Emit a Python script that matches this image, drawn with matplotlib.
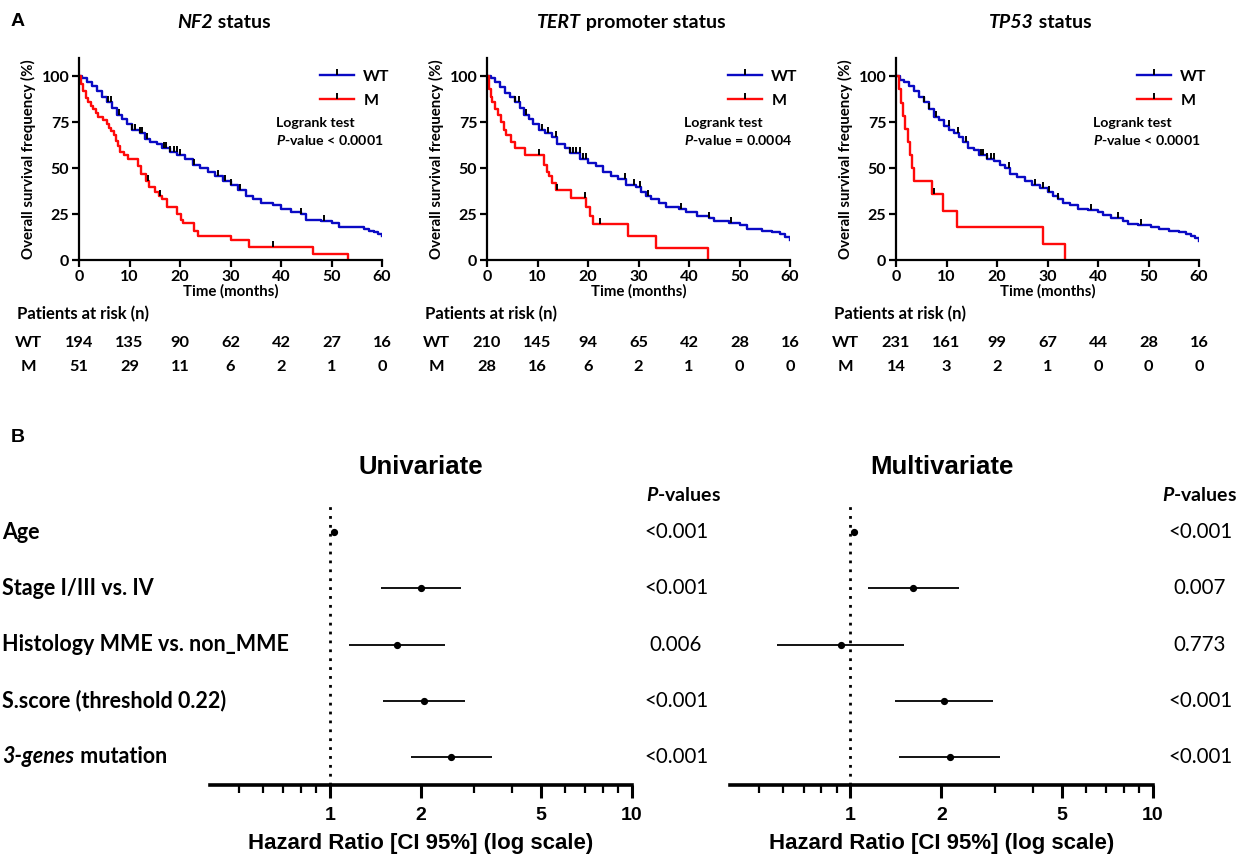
'''
plot.py

Kaplan-Meier curves by NF2 / TERT promoter / TP53 status (A) and
Cox regression forest plots, univariate and multivariate (B).
'''

import matplotlib
matplotlib.use('Agg')
import matplotlib.pyplot as plt
import matplotlib.transforms as mtransforms
from matplotlib.lines import Line2D
from matplotlib.offsetbox import TextArea, HPacker, AnnotationBbox
from matplotlib.ticker import NullFormatter
import numpy as np

plt.rcParams['font.family'] = ['Lato', 'DejaVu Sans']
plt.rcParams['mathtext.fontset'] = 'custom'
plt.rcParams['mathtext.it'] = 'Lato:italic:bold'
plt.rcParams['mathtext.rm'] = 'Lato:bold'
plt.rcParams['mathtext.bf'] = 'Lato:bold'

BLUE = '#0a0ac4'
RED = '#ff0a0a'

# ---- A: survival curves (time in months, survival in %) ----
nf2_wt_t = [0, 0.5, 1.5, 2.5, 3.5, 4.5, 5.5, 6.5, 7.5, 8.5, 9.5, 10.5, 12, 13, 14,
            15.5, 16.5, 18, 19.5, 21, 22.5, 24, 25.5, 27, 28.5, 30, 31.5, 33, 34.5,
            36, 38.5, 40, 42, 44, 45, 48, 50, 51.5, 56.5, 57.5, 58.5, 59.3, 60]
nf2_wt_s = [100, 99, 97, 95, 92, 89, 86, 83, 79, 77, 74, 71, 69, 66, 64,
            63, 61, 59, 57, 55, 52, 50, 48, 46, 43, 41, 38, 35, 33,
            31, 30, 28, 26, 25, 22, 21, 20, 18, 17, 16, 15, 14, 13]
nf2_m_t = [0, 0.3, 0.8, 1.3, 1.8, 2.3, 2.8, 3.3, 3.8, 4.8, 5.5, 6.0, 6.4, 7.0, 7.4,
           7.8, 8.2, 9.0, 9.8, 11.6, 12.3, 13.3, 13.8, 15.0, 15.8, 16.5, 17.5, 19.5,
           20.2, 20.6, 22.7, 23.6, 30.0, 33.6, 46.4, 53.2]
nf2_m_s = [100, 96, 92, 88, 86, 84, 82, 80, 78, 76, 74, 72, 70, 68, 65,
           62, 59, 57, 55, 51, 47, 43, 40, 37, 35, 33, 29, 25,
           22, 20, 16, 13, 11, 7, 3, 0]
nf2_wt_cens = [5.8, 6.3, 8.0, 10.5, 11.0, 12.0, 12.4, 13.5, 16.8, 17.3, 18.0, 18.8,
               19.4, 20.0, 22.7, 27.5, 29.0, 30.1, 31.8, 44.0, 48.5]
nf2_m_cens = [13.7, 16.0, 38.4]

tert_wt_t = [0, 0.8, 1.5, 2.5, 3.5, 4.5, 5.5, 6.5, 7.3, 8.3, 9.2, 10.2, 11.5, 12.8,
             13.8, 15.5, 16.5, 18.5, 20, 21.5, 23, 24.5, 26, 27.5, 29.5, 30.5, 31.5,
             32.5, 34, 35.5, 38, 39.5, 41.5, 44, 45, 48, 50, 51.5, 54.5, 56.5, 58,
             59, 60]
tert_wt_s = [100, 99, 97, 94, 91, 89, 86, 83, 79, 77, 74, 71, 69, 67,
             63, 61, 58, 55, 53, 51, 48, 46, 44, 41, 40, 37, 35,
             33, 31, 29, 28, 26, 24, 23, 21, 20, 19, 17, 16, 15, 14,
             12.5, 11]
tert_m_t = [0, 0.3, 0.7, 1.0, 1.5, 2.2, 2.8, 3.3, 3.8, 4.8, 5.5, 7.5, 11.3, 11.9,
            12.3, 12.8, 13.6, 16.7, 19.7, 20.4, 21.0, 28.0, 33.4, 43.8]
tert_m_s = [100, 93, 89, 86, 82, 79, 75, 71, 68, 64, 61, 57, 52, 48,
            46, 42, 38, 34, 29, 24, 19.5, 13, 6.5, 0]
tert_wt_cens = [5.5, 6.3, 7.8, 10.8, 12.1, 13.6, 16.5, 17.1, 17.6, 18.4, 19.0, 19.7,
                27.4, 29.1, 30.3, 31.9, 38.5, 44.0, 48.4]
tert_m_cens = [10.3, 13.8, 19.5, 22.4]

tp53_wt_t = [0, 0.8, 1.5, 2.5, 3.5, 4.5, 5.5, 6.5, 7.5, 8.5, 9.5, 10.5, 11.5, 12.5,
             13.2, 14.2, 15.5, 16.5, 18, 19.5, 20.5, 21.5, 22.5, 24, 25.5, 27, 28.5,
             30, 31, 32, 33, 34.5, 36, 38, 40, 41, 42.5, 45, 46, 48, 50.5, 52, 54,
             56, 57.5, 58.5, 59.3, 60]
tp53_wt_s = [100, 98, 97, 95, 92, 89, 86, 82, 78, 76, 73, 71, 69, 67,
             64, 61, 60, 57, 55, 54, 52, 50, 47, 45, 43, 41, 39,
             37, 35, 33, 31, 30, 28, 27, 26, 24.5, 23, 21, 19.5, 19, 18, 17, 16,
             15, 14, 13, 12, 10.5]
tp53_m_t = [0, 0.6, 1.0, 1.4, 1.8, 2.3, 2.7, 3.1, 3.6, 7.2, 9.4, 12.1, 29.1, 33.5]
tp53_m_s = [100, 92.9, 85.7, 78.6, 71.4, 64.3, 57.1, 50, 42.9, 35.7, 26.8, 17.9, 8.9, 0]
tp53_wt_cens = [5.6, 6.5, 7.9, 10.4, 12.2, 13.8, 16.8, 17.3, 18.1, 18.8, 19.4, 22.4,
                27.5, 29.1, 30.3, 32.0, 38.6, 44.0, 48.6]
tp53_m_cens = [7.6]

risk_times = [0, 10, 20, 30, 40, 50, 60]
nf2_risk_wt = [194, 135, 90, 62, 42, 27, 16]
nf2_risk_m = [51, 29, 11, 6, 2, 1, 0]
tert_risk_wt = [210, 145, 94, 65, 42, 28, 16]
tert_risk_m = [28, 16, 6, 2, 1, 0, 0]
tp53_risk_wt = [231, 161, 99, 67, 44, 28, 16]
tp53_risk_m = [14, 3, 2, 1, 0, 0, 0]

# (italic part, upright part)
km_titles = [('NF2', ' status'), ('TERT', ' promoter status'), ('TP53', ' status')]
logrank_p = ['< 0.0001', '= 0.0004', '< 0.0001']

# ---- B: Cox models ----
covariates = [('', 'Age'), ('', 'Stage I/III vs. IV'), ('', 'Histology MME vs. non_MME'),
              ('', 'S.score (threshold 0.22)'), ('3-genes', ' mutation')]
uni_hr = [1.03, 2.00, 1.67, 2.05, 2.51]
uni_lo = [1.015, 1.47, 1.155, 1.50, 1.85]
uni_hi = [1.045, 2.72, 2.40, 2.79, 3.43]
uni_p = ['<0.001', '<0.001', '0.006', '<0.001', '<0.001']
multi_hr = [1.03, 1.61, 0.93, 2.04, 2.13]
multi_lo = [1.015, 1.14, 0.57, 1.40, 1.45]
multi_hi = [1.045, 2.29, 1.50, 2.96, 3.11]
multi_p = ['<0.001', '0.007', '0.773', '<0.001', '<0.001']

hr_major = [1, 2, 5, 10]
hr_minor = [0.5, 0.6, 0.7, 0.8, 0.9, 3, 4, 6, 7, 8, 9]

W, H = 1242, 860
CENS = [(0, 0), (0, 1)]  # censor tick sitting on top of the curve


def surv_at(ts, ss, tc):
    idx = np.searchsorted(ts, tc, side='right') - 1
    return np.asarray(ss)[idx]


def rich_text(ax, xy, italic, upright, size, coords, align):
    boxes = []
    if italic:
        boxes.append(TextArea(italic, textprops=dict(fontsize=size, fontweight='bold',
                                                     fontstyle='italic')))
    boxes.append(TextArea(upright, textprops=dict(fontsize=size, fontweight='bold')))
    pack = HPacker(children=boxes, pad=0, sep=0, align='baseline')
    ab = AnnotationBbox(pack, xy, xycoords=coords, frameon=False,
                        box_alignment=align, pad=0, annotation_clip=False)
    ax.add_artist(ab)


def km_panel(ax, title, wt, m, cens, pval, risk_wt, risk_m):
    for (t, s), c, col in zip((wt, m), cens, (BLUE, RED)):
        ax.step(t, s, where='post', color=col, lw=1.7, zorder=2)
        ax.plot(c, surv_at(t, s, c), ls='none', marker=CENS, ms=8,
                mec='black', mew=1.4, zorder=3)
    ax.set_xlim(0, 60)
    ax.set_ylim(0, 110)
    ax.set_xticks(risk_times)
    ax.set_yticks([0, 25, 50, 75, 100])
    for sp in ('top', 'right'):
        ax.spines[sp].set_visible(False)
    for sp in ('left', 'bottom'):
        ax.spines[sp].set_linewidth(1.6)
    ax.tick_params(direction='out', length=5, width=1.6, labelsize=11.5, pad=2)
    for lab in ax.get_xticklabels() + ax.get_yticklabels():
        lab.set_fontweight('bold')
    ax.set_xlabel('Time (months)', fontweight='bold', fontsize=10.8, labelpad=0)
    ax.set_ylabel('Overall survival frequency (%)', fontweight='bold',
                  fontsize=10.8, labelpad=4)
    rich_text(ax, (0.477, 1.175), title[0], title[1], 14, ax.transAxes, (0.5, 0.5))
    ax.text(0.65, 0.68, 'Logrank test', transform=ax.transAxes, fontsize=10.2,
            fontweight='bold', va='center')
    ax.text(0.65, 0.595, r'$\mathit{P}$-value ' + pval, transform=ax.transAxes,
            fontsize=10.2, fontweight='bold', va='center')
    handles = [Line2D([], [], color=col, lw=1.7, marker=CENS, ms=8, mec='black',
                      mew=1.4) for col in (BLUE, RED)]
    ax.legend(handles, ['WT', 'M'], loc='upper left', bbox_to_anchor=(0.775, 0.975),
              frameon=False, handlelength=2.1, handletextpad=0.6, labelspacing=0.62,
              prop={'weight': 'bold', 'size': 11.5}, borderaxespad=0)
    tr = ax.get_xaxis_transform()
    ax.text(-12.3, -0.267, 'Patients at risk (n)', transform=tr, ha='left',
            va='center', fontsize=12, fontweight='bold')
    for yy, lab, row in ((-0.411, 'WT', risk_wt), (-0.530, 'M', risk_m)):
        ax.text(-10, yy, lab, transform=tr, ha='center', va='center',
                fontsize=11.8, fontweight='bold')
        for t, n in zip(risk_times, row):
            ax.text(t, yy, str(n), transform=tr, ha='center', va='center',
                    fontsize=11.8, fontweight='bold')


def forest_panel(fig, ax, title, hr, lo, hi, pvals, p_x, hdr_x, show_labels):
    y = np.arange(len(hr))
    ax.axvline(1, color='black', ls=(0, (1, 2.2)), lw=2, zorder=1)
    ax.hlines(y, lo, hi, color='black', lw=1.3, zorder=2)
    ax.plot(hr, y, 'o', color='black', ms=4.2, zorder=3)
    ax.set_xscale('log')
    ax.set_xlim(0.4, 10)
    ax.set_ylim(4.5, -0.52)
    for sp in ('top', 'right', 'left'):
        ax.spines[sp].set_visible(False)
    ax.spines['bottom'].set_linewidth(2.6)
    ax.set_yticks([])
    ax.set_xticks(hr_major, labels=[str(v) for v in hr_major])
    ax.set_xticks(hr_minor, minor=True)
    ax.xaxis.set_minor_formatter(NullFormatter())
    ax.tick_params(axis='x', which='major', length=9, width=2.2, pad=7)
    ax.tick_params(axis='x', which='minor', length=6, width=1.6)
    for lab in ax.get_xticklabels():
        lab.set_fontweight('bold')
        lab.set_fontfamily('Liberation Sans')
        lab.set_fontsize(14)
    ax.set_xlabel('Hazard Ratio [CI 95%] (log scale)', fontfamily='Liberation Sans',
                  fontweight='bold', fontsize=16, labelpad=6)
    ax.set_title(title, fontfamily='Liberation Sans', fontweight='bold',
                 fontsize=18.5, pad=21)
    trp = mtransforms.blended_transform_factory(fig.transFigure, ax.transData)
    ax.text(hdr_x, -0.66, r'$\mathit{P}$-values', transform=trp, ha='center',
            va='center', fontsize=14, fontweight='bold')
    for yy, p in zip(y, pvals):
        ax.text(p_x, yy, p, transform=trp, ha='center', va='center', fontsize=14.8)
    if show_labels:
        for yy, (it, up) in zip(y, covariates):
            rich_text(ax, (0.002, yy), it, up, 15.5, trp, (0, 0.5))


def main():
    fig = plt.figure(figsize=(W / 100, H / 100), dpi=100)

    km_left = [79, 487, 896]
    km_data = [((nf2_wt_t, nf2_wt_s), (nf2_m_t, nf2_m_s), (nf2_wt_cens, nf2_m_cens),
                nf2_risk_wt, nf2_risk_m),
               ((tert_wt_t, tert_wt_s), (tert_m_t, tert_m_s),
                (tert_wt_cens, tert_m_cens), tert_risk_wt, tert_risk_m),
               ((tp53_wt_t, tp53_wt_s), (tp53_m_t, tp53_m_s),
                (tp53_wt_cens, tp53_m_cens), tp53_risk_wt, tp53_risk_m)]
    for i, (x0, d) in enumerate(zip(km_left, km_data)):
        ax = fig.add_axes([x0 / W, 1 - 260 / H, 303 / W, 202 / H])
        km_panel(ax, km_titles[i], d[0], d[1], d[2], logrank_p[i], d[3], d[4])

    ax_u = fig.add_axes([210 / W, 1 - 785 / H, 422 / W, 282 / H])
    forest_panel(fig, ax_u, 'Univariate', uni_hr, uni_lo, uni_hi, uni_p,
                 676 / W, 683 / W, True)
    ax_m = fig.add_axes([730 / W, 1 - 785 / H, 423 / W, 282 / H])
    forest_panel(fig, ax_m, 'Multivariate', multi_hr, multi_lo, multi_hi, multi_p,
                 1200 / W, 1199 / W, False)

    for lab, yy in (('A', 22), ('B', 438)):
        fig.text(18 / W, 1 - yy / H, lab, ha='center', va='center', fontsize=14,
                 fontweight='bold', fontfamily='Liberation Sans')

    fig.savefig('out.png', dpi=100)


if __name__ == '__main__':
    main()
